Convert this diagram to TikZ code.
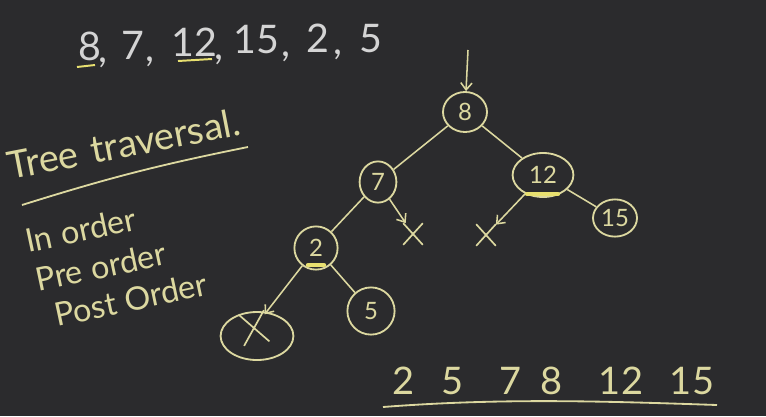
\documentclass[tikz,border=0pt]{standalone}
\usepackage{fontspec}
\setmainfont{Lato}
\usetikzlibrary{arrows.meta,shapes.geometric,shapes.misc,calc}
\definecolor{board}{HTML}{2B2B2D}
\definecolor{chalk}{HTML}{DCD8A0}
\definecolor{grey}{HTML}{D4D4D4}
\definecolor{hilite}{HTML}{E8E070}
\begin{document}
\begin{tikzpicture}[x=0.025cm,y=-0.025cm,
  every node/.style={inner sep=0pt},
  tnode/.style={draw=chalk,line width=1.3pt,ellipse,text=chalk,font=\fontsize{17}{17}\selectfont},
  xmark/.style={draw=chalk,line width=1.2pt,cross out,minimum width=0.45cm,minimum height=0.5cm},
  edge/.style={draw=chalk,line width=1.1pt},
  aedge/.style={edge,-{Straight Barb[length=5pt,width=8pt]}},
  hand/.style={text=chalk,font=\fontsize{23}{24}\selectfont,rotate=12,anchor=base west},
  ttl/.style={text=chalk,font=\fontsize{27}{28}\selectfont,rotate=11,anchor=base west},
  seqn/.style={text=grey,font=\fontsize{28}{28}\selectfont,anchor=base},
  botn/.style={text=chalk,font=\fontsize{27}{27}\selectfont,anchor=base}]
\fill[board] (0,0) rectangle (766,416);
\useasboundingbox (0,0) rectangle (766,416);
% sequence
\node[seqn] (s8) at (90,60) {8};
\node[seqn] (c1) at (103,62) {,};
\node[seqn] (s7) at (133,59) {7};
\node[seqn] (c2) at (150,61) {,};
\node[seqn] (s12) at (194,56) {12};
\node[seqn] (c3) at (219,59) {,};
\node[seqn] (s15) at (256,53) {15};
\node[seqn] (c4) at (286,56) {,};
\node[seqn] (s2) at (318,52) {2};
\node[seqn] (c5) at (338,54) {,};
\node[seqn] (s5) at (371,52) {5};
\draw[hilite,line width=1.4pt] (77,67) -- (95,65);
\draw[hilite,line width=1.4pt] (178,61) -- (212,59);
% title
\node[ttl] (t1) at (10,180) {Tree};
\node[ttl] (t2) at ($(t1.base east)!-9pt!(t1.base west)$) {traversal.};
\draw[chalk,line width=1.3pt] (22,205) to[bend left=3] (248,147);
\node[hand] (i1) at (28,253) {In};
\node[hand] (i2) at ($(i1.base east)!-6pt!(i1.base west)$) {order};
\node[hand] (p1) at (38,292) {Pre};
\node[hand] (p2) at ($(p1.base east)!-6pt!(p1.base west)$) {order};
\node[hand] (q1) at (57,327) {Post};
\node[hand] (q2) at ($(q1.base east)!-6pt!(q1.base west)$) {Order};
% tree
\node[tnode,minimum width=1.1cm,minimum height=1.0cm] (n8) at (465,112) {8};
\node[tnode,minimum width=0.92cm,minimum height=1.03cm] (n7) at (378,182) {7};
\node[tnode,minimum width=1.52cm,minimum height=1.1cm] (n12) at (543,175) {12};
\node[tnode,minimum width=1.1cm,minimum height=0.93cm] (n15) at (615,218) {15};
\node[tnode,minimum width=1.08cm,minimum height=1.08cm] (n2) at (316,248) {2};
\node[tnode,minimum width=1.18cm,minimum height=1.18cm] (n5) at (371,311) {5};
\node[draw=chalk,line width=1.3pt,ellipse,minimum width=1.82cm,minimum height=1.2cm] (nl) at (257,336) {};
\node[xmark,rotate=10,minimum width=0.6cm,minimum height=0.75cm] (xl) at (254,328) {};
\node[xmark] (x7) at (413,234) {};
\node[xmark] (x12) at (486,235) {};
\coordinate (top) at (468,50);
\draw[aedge] (top) -- (n8);
\draw[edge] (n8) -- (n7);
\draw[edge] (n8) -- (n12);
\draw[edge] (n12) -- (n15);
\draw[aedge] (n12) -- (x12);
\draw[aedge] (n7) -- (x7);
\draw[edge] (n7) -- (n2);
\draw[aedge] (n2) -- (xl);
\draw[edge] (n2) -- (n5);
\draw[hilite,line width=3pt,line cap=round] (527,194) -- (558,194);
\draw[hilite,line width=3pt,line cap=round] (308,265) -- (324,265);
% result
\node[botn] (b2) at (404,394) {2};
\node[botn] (b5) at (453,394) {5};
\node[botn] (b7) at (510,394) {7};
\node[botn] (b8) at (551,394) {8};
\node[botn] (b12) at (621,394) {12};
\node[botn] (b15) at (692,394) {15};
\draw[chalk,line width=1.3pt] (383,407) .. controls (500,398) and (600,401) .. (717,405);
\end{tikzpicture}
\end{document}
